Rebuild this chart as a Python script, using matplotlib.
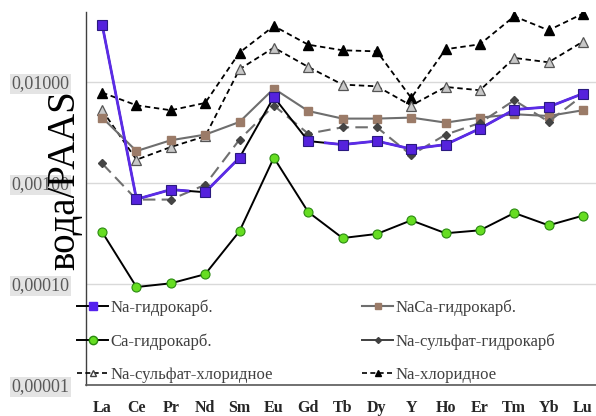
import numpy as np
import matplotlib
matplotlib.use("Agg")
import matplotlib.pyplot as plt
from matplotlib.lines import Line2D
from matplotlib.ticker import FixedLocator

elements = ["La", "Ce", "Pr", "Nd", "Sm", "Eu", "Gd", "Tb", "Dy", "Y", "Ho", "Er", "Tm", "Yb", "Lu"]

na_hydrocarb = [0.037, 0.00069, 0.00086, 0.00081, 0.00178, 0.0071, 0.0026, 0.0024, 0.0026,
                0.00217, 0.0024, 0.00346, 0.00533, 0.00566, 0.00767]
naca_hydrocarb = [0.00444, 0.00207, 0.00265, 0.00301, 0.00402, 0.0086, 0.00516, 0.00434, 0.00434,
                  0.00444, 0.00396, 0.00444, 0.00479, 0.00461, 0.00525]
ca_hydrocarb = [0.000327, 0.0000933, 0.0001016, 0.000125, 0.000333, 0.00178, 0.000516, 0.000285,
                0.000313, 0.000427, 0.000318, 0.00034, 0.000505, 0.000381, 0.000475]
na_sulf_hydrocarb = [0.00156, 0.000685, 0.000685, 0.00096, 0.00269, 0.00584, 0.00308, 0.00356,
                     0.00356, 0.00189, 0.00301, 0.00393, 0.00659, 0.00405, 0.00738]
na_sulf_chlor = [0.00525, 0.0017, 0.00227, 0.0029, 0.01337, 0.0219, 0.0141, 0.00942, 0.00906,
                 0.00584, 0.00893, 0.00828, 0.0173, 0.01567, 0.0251]
na_chlor = [0.00785, 0.00588, 0.00525, 0.0062, 0.01954, 0.0358, 0.0234, 0.0206, 0.0201,
            0.00695, 0.0211, 0.0236, 0.0447, 0.0325, 0.0475]

labels = ["Na-гидрокарб.", "NaCa-гидрокарб.", "Ca-гидрокарб.", "Na-сульфат-гидрокарб",
          "Na-сульфат-хлоридное", "Na-хлоридное"]
ytick_vals = [1e-5, 1e-4, 1e-3, 1e-2]
ytick_labels = ["0,00001", "0,00010", "0,00100", "0,01000"]

W, H = 596, 416
fig = plt.figure(figsize=(W / 100, H / 100), dpi=100)
ax = fig.add_axes([86 / W, (H - 385) / H, (596 - 86) / W, (385 - 12) / H])

x = np.arange(len(elements))
ax.set_yscale("log")
ax.set_ylim(1e-5, 0.0493)
ax.set_xlim(-0.47, 14.38)

# grid
ax.yaxis.set_major_locator(FixedLocator(ytick_vals))
ax.yaxis.set_minor_locator(FixedLocator([]))
ax.grid(axis="y", color="#d9d9d9", lw=1.0, zorder=0)
ax.set_axisbelow(True)

purple = "#5b2be8"
dash_short = (0, (3, 2))
dash_long = (0, (6, 3))

# Na-хлоридное
ax.plot(x, na_chlor, color="black", lw=1.3, ls=dash_short, marker="^", ms=6.5,
        mfc="black", mec="black", zorder=3)
# Na-сульфат-хлоридное
ax.plot(x, na_sulf_chlor, color="black", lw=1.3, ls=dash_short, marker="^", ms=6.5,
        mfc="#c8c8c8", mec="#555555", mew=0.9, zorder=3)
# NaCa
ax.plot(x, naca_hydrocarb, color="#6e6e6e", lw=1.5, marker="s", ms=6,
        mfc="#9b7b68", mec="#9b7b68", zorder=4)
# Na-сульфат-гидрокарб
ax.plot(x, na_sulf_hydrocarb, color="#707070", lw=1.5, ls=dash_long, marker="D", ms=4,
        mfc="#444444", mec="#444444", zorder=4)
# Ca
ax.plot(x, ca_hydrocarb, color="black", lw=1.4, marker="o", ms=6.5,
        mfc="#66dd22", mec="#2a8a10", mew=0.8, zorder=5)
# Na-гидрокарб: black base line, purple overlay on most segments
ax.plot(x, na_hydrocarb, color="black", lw=1.4, zorder=5)
nh = np.array(na_hydrocarb, dtype=float)
purple_y = nh.copy()
purple_y[5:7] = np.nan  # Eu-Gd segment stays black
purple_y[3] = np.nan
ax.plot(x, purple_y, color=purple, lw=2.0, zorder=6)
# half segments
mid_pn = np.sqrt(nh[2] * nh[3])
mid_gt = np.sqrt(nh[6] * nh[7])
ax.plot([x[2], (x[2] + x[3]) / 2], [nh[2], mid_pn], color=purple, lw=2.0, zorder=6)
ax.plot([(x[6] + x[7]) / 2, x[7]], [mid_gt, nh[7]], color=purple, lw=2.0, zorder=6)
ax.plot([x[3], x[4]], [nh[3], nh[4]], color=purple, lw=2.0, zorder=6)
ax.plot(x, na_hydrocarb, ls="none", marker="s", ms=6.5, mfc="#5522dd", mec="#2a1a80",
        mew=0.8, zorder=7)

# spines
for s in ["top", "right"]:
    ax.spines[s].set_visible(False)
ax.spines["left"].set_color("#404040")
ax.spines["bottom"].set_color("#595959")
ax.spines["left"].set_linewidth(1.0)
ax.spines["bottom"].set_linewidth(1.2)

# ticks
ax.set_xticks(x)
ax.set_xticklabels(elements, fontfamily="Liberation Serif", fontweight="bold",
                   fontsize=11.5, color="#262626")
ax.tick_params(axis="x", length=0, pad=11)
ax.set_yticklabels(ytick_labels, fontfamily="Liberation Serif", fontsize=13, color="#595959")
ax.tick_params(axis="y", length=0, pad=12)
for t in ax.get_yticklabels():
    t.set_bbox(dict(facecolor="#e4e4e4", edgecolor="none", pad=1.0))

fig.text(65 / W, 1 - 180 / H, "вода/PAAS", rotation=90, ha="center", va="center",
         fontfamily="Liberation Serif", fontsize=28, color="black")

# legends
h_nah = Line2D([], [], color="black", lw=1.4, marker="s", ms=5.5, mfc="#5522ee", mec="#5522ee")
h_naca = Line2D([], [], color="#6e6e6e", lw=1.5, marker="s", ms=5, mfc="#9b7b68", mec="#9b7b68")
h_ca = Line2D([], [], color="black", lw=1.4, marker="o", ms=6, mfc="#66dd22", mec="#2a8a10")
h_nsh = Line2D([], [], color="#404040", lw=1.4, marker="D", ms=3, mfc="#404040", mec="#404040")
h_nsc = Line2D([], [], color="black", lw=1.2, ls=dash_short, marker="^", ms=4.5,
               mfc="white", mec="#404040")
h_nc = Line2D([], [], color="black", lw=1.2, ls=dash_short, marker="^", ms=4.5,
              mfc="black", mec="black")

leg_kw = dict(frameon=False, loc="center left", borderpad=0, borderaxespad=0,
              handlelength=1.9, handletextpad=0.12, labelspacing=1.05,
              prop={"family": "Liberation Serif", "size": 12})
leg1 = fig.legend([h_nah, h_ca, h_nsc], [labels[0], labels[2], labels[4]],
                  bbox_to_anchor=(76.7 / W, 1 - 341 / H), **leg_kw)
leg2 = fig.legend([h_naca, h_nsh, h_nc], [labels[1], labels[3], labels[5]],
                  bbox_to_anchor=(361.7 / W, 1 - 341 / H), **leg_kw)
for lg in (leg1, leg2):
    for t in lg.get_texts():
        t.set_color("#404040")

fig.savefig("out.png", dpi=100)
